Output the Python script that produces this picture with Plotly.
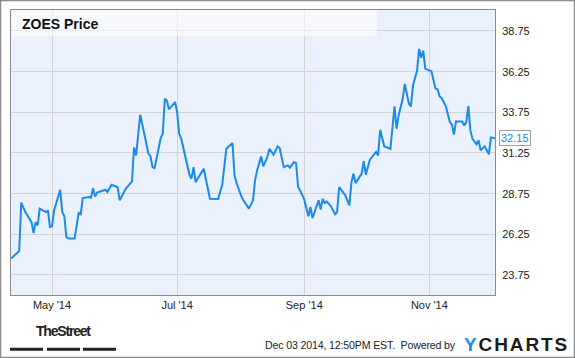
import plotly.graph_objects as go

# ---- data ----
dates = [
    "2014-04-11", "2014-04-15", "2014-04-16", "2014-04-18", "2014-04-21", "2014-04-22",
    "2014-04-23", "2014-04-24", "2014-04-25", "2014-04-28", "2014-04-29", "2014-04-30",
    "2014-05-01", "2014-05-02", "2014-05-05", "2014-05-06", "2014-05-07", "2014-05-08",
    "2014-05-09", "2014-05-12", "2014-05-14", "2014-05-15", "2014-05-16", "2014-05-19",
    "2014-05-20", "2014-05-21", "2014-05-22", "2014-05-23", "2014-05-27", "2014-05-28",
    "2014-05-30", "2014-06-02", "2014-06-03", "2014-06-06", "2014-06-09", "2014-06-10",
    "2014-06-11", "2014-06-13", "2014-06-16", "2014-06-17", "2014-06-18", "2014-06-19",
    "2014-06-20", "2014-06-23", "2014-06-24", "2014-06-25", "2014-06-26", "2014-06-27",
    "2014-06-30", "2014-07-01", "2014-07-02", "2014-07-03", "2014-07-07", "2014-07-08",
    "2014-07-09", "2014-07-10", "2014-07-14", "2014-07-17", "2014-07-21", "2014-07-22",
    "2014-07-23", "2014-07-25", "2014-07-28", "2014-07-29", "2014-07-30", "2014-08-01",
    "2014-08-02", "2014-08-05", "2014-08-07", "2014-08-08", "2014-08-09", "2014-08-11",
    "2014-08-12", "2014-08-14", "2014-08-15", "2014-08-17", "2014-08-19", "2014-08-20",
    "2014-08-22", "2014-08-24", "2014-08-25", "2014-08-27", "2014-08-28", "2014-08-29",
    "2014-08-30", "2014-09-01", "2014-09-03", "2014-09-04", "2014-09-05", "2014-09-08",
    "2014-09-09", "2014-09-10", "2014-09-11", "2014-09-12", "2014-09-14", "2014-09-16",
    "2014-09-17", "2014-09-18", "2014-09-21", "2014-09-23", "2014-09-24", "2014-09-25",
    "2014-09-26", "2014-09-29", "2014-09-30", "2014-10-01", "2014-10-03", "2014-10-06",
    "2014-10-07", "2014-10-08", "2014-10-10", "2014-10-13", "2014-10-14", "2014-10-15",
    "2014-10-16", "2014-10-17", "2014-10-19", "2014-10-20", "2014-10-22", "2014-10-23",
    "2014-10-24", "2014-10-26", "2014-10-27", "2014-10-28", "2014-10-29", "2014-10-30",
    "2014-11-02", "2014-11-04", "2014-11-05", "2014-11-06", "2014-11-07", "2014-11-09",
    "2014-11-11", "2014-11-12", "2014-11-13", "2014-11-14", "2014-11-17", "2014-11-18",
    "2014-11-19", "2014-11-20", "2014-11-21", "2014-11-22", "2014-11-24", "2014-11-25",
    "2014-11-26", "2014-11-28", "2014-11-30", "2014-12-01", "2014-12-03",
]
prices = [
    24.76, 25.22, 28.20, 27.62, 27.00, 26.33,
    26.99, 26.80, 27.83, 27.62, 27.72, 26.70,
    26.74, 27.72, 28.99, 27.62, 27.36, 26.09,
    25.99, 25.99, 27.56, 27.48, 28.48, 28.54,
    28.50, 29.09, 28.58, 28.81, 28.99, 28.85,
    29.30, 29.14, 28.34, 29.06, 29.50, 31.59,
    31.10, 33.60, 31.82, 31.21, 31.06, 30.38,
    30.32, 32.16, 32.43, 34.58, 34.48, 33.93,
    34.38, 33.76, 32.43, 32.13, 29.92, 29.67,
    30.38, 29.46, 30.28, 28.44, 28.42, 28.95,
    29.30, 31.51, 31.86, 29.87, 29.40, 28.69,
    28.40, 27.83, 28.34, 29.57, 30.18, 31.04,
    30.43, 31.00, 31.51, 31.14, 31.66, 31.55,
    30.38, 30.49, 30.35, 30.69, 30.63, 29.16,
    28.95, 28.38, 27.36, 27.93, 27.25, 28.34,
    27.77, 28.42, 28.17, 28.26, 27.97, 27.48,
    27.62, 29.16, 28.65, 28.03, 29.46, 29.98,
    29.40, 29.98, 30.75, 29.92, 30.84, 31.31,
    31.10, 32.68, 31.66, 31.51, 32.95, 34.11,
    32.74, 33.56, 34.58, 35.50, 34.28, 34.11,
    35.40, 36.32, 37.65, 37.10, 37.55, 36.42,
    36.28, 35.20, 35.16, 34.73, 34.62, 34.13,
    33.15, 33.00, 32.39, 33.19, 33.19, 32.94,
    33.15, 34.13, 32.64, 32.13, 31.78, 32.03,
    31.41, 31.66, 31.17, 32.20, 32.15,
]
y_ticks = [23.75, 26.25, 28.75, 31.25, 33.75, 36.25, 38.75]
x_ticks = ["2014-05-01", "2014-07-01", "2014-09-01", "2014-11-01"]
x_tick_labels = ["May '14", "Jul '14", "Sep '14", "Nov '14"]
title_text = "ZOES Price"
footer_text = "Dec 03 2014, 12:50PM EST.  Powered by"

# ---- layout geometry ----
W, H = 575, 358
L, R, T, B = 11, 80, 10, 63
PW, PH = W - L - R, H - T - B


def px(x):
    return (x - L) / PW


def py(y):
    return (H - B - y) / PH


FONT = "Arial, Liberation Sans, sans-serif"
LINE_COLOR = "#1a8be6"

fig = go.Figure()
fig.add_trace(go.Scatter(
    x=dates, y=prices, mode="lines",
    line=dict(color=LINE_COLOR, width=2),
    hoverinfo="skip", showlegend=False,
))

fig.update_layout(
    width=W, height=H,
    margin=dict(l=L, r=R, t=T, b=B, pad=0),
    paper_bgcolor="white",
    plot_bgcolor="#eaf0fc",
    font=dict(family=FONT, size=11, color="#222"),
    xaxis=dict(
        range=["2014-04-11", "2014-12-03"],
        tickvals=x_ticks, ticktext=x_tick_labels,
        showgrid=True, gridcolor="#d3d3d3", gridwidth=1,
        showline=True, linecolor="#8c8c8c", linewidth=1, mirror=True,
        ticks="", zeroline=False,
        tickfont=dict(family=FONT, size=11, color="#222"),
    ),
    yaxis=dict(
        range=[22.52, 40.04], side="right",
        tickvals=y_ticks, tickformat=".2f",
        showgrid=True, gridcolor="#d3d3d3", gridwidth=1,
        showline=True, linecolor="#8c8c8c", linewidth=1, mirror=True,
        ticks="", zeroline=False, ticklabelstandoff=4,
        tickfont=dict(family=FONT, size=11, color="#222"),
    ),
)

shapes = [
    # translucent title band
    dict(type="rect", xref="paper", yref="paper", layer="above",
         x0=px(11.5), x1=px(377), y0=py(36), y1=py(10.5),
         fillcolor="rgba(255,255,255,0.55)", line=dict(width=0)),
    # outer frame of the whole image
    dict(type="rect", xref="paper", yref="paper", layer="above",
         x0=px(0.5), x1=px(574.5), y0=py(357.5), y1=py(0.5),
         line=dict(color="#8c8c8c", width=1.5)),
]
# TheStreet underline bars
for a, b in [(10, 43), (47, 80), (83, 116)]:
    shapes.append(dict(type="rect", xref="paper", yref="paper", layer="above",
                       x0=px(a), x1=px(b), y0=py(350.8), y1=py(347.8),
                       fillcolor="#222", line=dict(width=0)))
fig.update_layout(shapes=shapes)

annotations = [
    dict(text=f"<b>{title_text}</b>", xref="paper", yref="paper",
         x=px(20), y=py(24), xanchor="left", yanchor="middle", showarrow=False,
         font=dict(family=FONT, size=14, color="#111")),
    # last value callout
    dict(text=f"{prices[-1]:.2f}", xref="x", yref="y",
         x=dates[-1], y=prices[-1], xanchor="left", yanchor="middle",
         xshift=4, showarrow=False, bgcolor="white",
         bordercolor="#a0a0a0", borderwidth=1, borderpad=1,
         font=dict(family=FONT, size=11, color=LINE_COLOR)),
    dict(text="<b><span style='letter-spacing:-1.2px'>TheStreet</span></b>",
         xref="paper", yref="paper",
         x=px(63.5), y=py(331), xanchor="center", yanchor="middle", showarrow=False,
         font=dict(family=FONT, size=14, color="#222")),
    dict(text=f"<span style='letter-spacing:-0.15px'>{footer_text}</span>",
         xref="paper", yref="paper",
         x=px(263), y=py(345), xanchor="left", yanchor="middle", showarrow=False,
         font=dict(family=FONT, size=10.6, color="#222")),
    dict(text="<b><span style='letter-spacing:1.9px'><span style='color:#1d8ff0'>Y</span>CHARTS</span></b>",
         xref="paper", yref="paper",
         x=px(462), y=py(344), xanchor="left", yanchor="middle", showarrow=False,
         font=dict(family=FONT, size=19, color="#1c1c1c")),
]
fig.update_layout(annotations=annotations)

fig.write_html("out.html")
